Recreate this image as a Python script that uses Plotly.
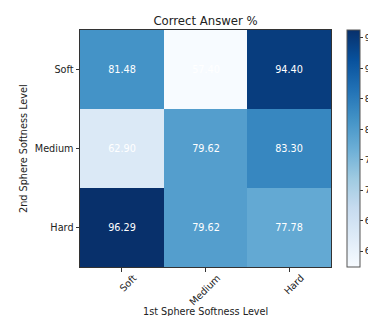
import plotly.graph_objects as go

x_labels = ["Soft", "Medium", "Hard"]
y_labels = ["Soft", "Medium", "Hard"]
row_soft = [81.48, 57.40, 94.40]
row_medium = [62.90, 79.62, 83.30]
row_hard = [96.29, 79.62, 77.78]
z = [row_soft, row_medium, row_hard]
cbar_ticks = [60, 65, 70, 75, 80, 85, 90, 95]

blues = ["#f7fbff", "#deebf7", "#c6dbef", "#9ecae1", "#6baed6",
         "#4292c6", "#2171b5", "#08519c", "#08306b"]
colorscale = [[i / 8, c] for i, c in enumerate(blues)]

W, H = 376, 316
L, R_edge, T, B_edge = 72, 323, 22, 259
plot_w = W - L
plot_h = B_edge - T
FS = 9.7
font = "DejaVu Sans"
fc = "#222222"

fig = go.Figure(go.Heatmap(
    z=z, x=x_labels, y=y_labels,
    colorscale=colorscale, zmin=57.40, zmax=96.29,
    texttemplate="%{z:.2f}", textfont=dict(color="white", size=FS, family=font),
    colorbar=dict(
        x=(339 - L) / plot_w, xanchor="left", xpad=0, ypad=0,
        y=0.5, yanchor="middle",
        len=1, lenmode="fraction", thickness=13, thicknessmode="pixels",
        outlinewidth=1, outlinecolor="#555555",
        tickvals=cbar_ticks, ticks="outside", ticklen=3, tickcolor="#333333",
        tickfont=dict(size=9.2, family=font, color=fc),
    ),
))

fig.update_layout(
    width=W, height=H,
    margin=dict(l=L, r=0, t=T, b=H - B_edge),
    paper_bgcolor="white", plot_bgcolor="white",
    font=dict(family=font, color=fc),
    title=dict(text="Correct Answer %", x=(L + R_edge) / 2 / W, xanchor="center",
               y=1 - 12.5 / H, yanchor="middle",
               font=dict(size=11.7, family=font, color=fc)),
    xaxis=dict(
        domain=[0, (R_edge - L) / plot_w],
        tickangle=-45, ticks="outside", ticklen=3.5, tickcolor="#333333",
        tickfont=dict(size=FS, family=font), ticklabelshift=12, ticklabelstandoff=-3,
        showline=True, linecolor="#333333", linewidth=1, mirror=True,
        showgrid=False, zeroline=False,
    ),
    yaxis=dict(
        autorange="reversed", ticks="outside", ticklen=3.5, tickcolor="#333333",
        tickfont=dict(size=FS, family=font),
        showline=True, linecolor="#333333", linewidth=1, mirror=True,
        showgrid=False, zeroline=False,
    ),
    annotations=[
        dict(text="1st Sphere Softness Level", xref="paper", yref="paper",
             x=((L + R_edge) / 2 - L) / plot_w, y=-(303.5 - B_edge) / plot_h,
             xanchor="center", yanchor="middle", showarrow=False,
             font=dict(size=FS, family=font, color=fc)),
        dict(text="2nd Sphere Softness Level", xref="paper", yref="paper",
             x=-(L - 15.5) / plot_w, y=0.5, textangle=-90,
             xanchor="center", yanchor="middle", showarrow=False,
             font=dict(size=FS, family=font, color=fc)),
    ],
)

fig.write_html("out.html")
